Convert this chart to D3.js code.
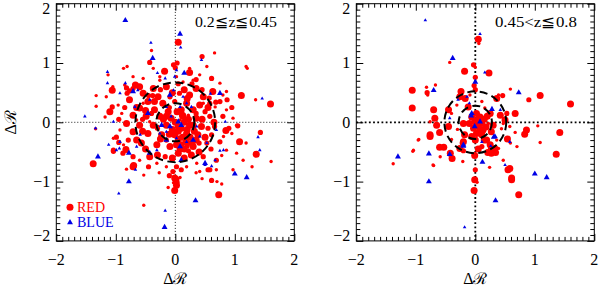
<!DOCTYPE html>
<html lang="en">
<head>
<meta charset="UTF-8">
<title>Delta R scatter</title>
<script src="https://d3js.org/d3.v7.min.js"></script>
<style>
  body { margin: 0; background: #fff; }
  text { font-family: "Liberation Serif", "Times New Roman", serif; }
</style>
</head>
<body>
<div id="chart"></div>
<script>

// [dx, dy, size class]  (1 small .. 3 big)
var leftRed = [
  [0.05,1.35,3],[-0.40,1.21,1],[-0.43,1.01,2],[0.66,1.17,1],[0.45,1.11,2],[-0.81,0.94,1],[-0.03,0.97,2],[0.0,0.92,2],
  [0.03,1.0,2],[1.21,0.91,1],[-0.18,0.86,3],[-0.26,0.77,1],[0.24,0.84,3],[0.41,0.80,1],[0.35,0.72,2],[-0.67,0.63,3],
  [-0.82,0.58,2],[-0.81,0.49,2],[-0.77,0.53,2],[-1.06,0.54,3],[-1.05,0.60,1],[-1.33,0.45,1],[0.87,0.38,2],[1.11,0.45,3],
  [1.35,0.38,1],[1.60,0.31,3],[0.68,0.34,2],[0.57,0.41,2],[0.80,0.46,1],[-1.10,0.18,3],[-1.33,0.27,1],
  [0.61,0.74,2],[-0.85,0.63,1],[-0.71,0.57,2],[-0.60,0.60,3],[-0.37,0.57,3],[-0.15,0.60,3],[0.35,0.57,3],[0.63,0.52,3],
  [-0.54,0.49,3],[-0.29,0.43,3],[-0.09,0.43,2],[0.07,0.49,2],[0.24,0.46,3],[0.47,0.43,3],[-0.77,0.38,3],[-0.46,0.35,3],
  [-0.21,0.32,3],[-0.01,0.35,2],[0.19,0.32,3],[0.41,0.29,3],[0.58,0.32,2],[0.75,0.35,2],[-1.06,0.26,2],[-0.60,0.24,3],
  [-0.35,0.21,3],[-0.12,0.18,3],[0.10,0.21,3],[0.30,0.21,3],[0.50,0.18,2],[-0.71,0.12,3],[-0.49,0.10,3],[-0.26,0.10,3],
  [-0.07,0.07,3],[0.13,0.10,3],[0.35,0.07,3],[0.58,0.10,2],[0.80,0.10,2],[-0.82,-0.02,3],[-0.60,-0.05,3],[-0.37,-0.05,3],
  [-0.15,-0.05,3],[0.05,-0.07,3],[0.24,-0.05,3],[0.44,-0.07,3],[0.66,-0.07,2],[-0.71,-0.16,3],[-0.46,-0.19,3],[-0.23,-0.21,3],
  [-0.01,-0.21,3],[0.19,-0.19,3],[0.38,-0.21,3],[0.61,-0.21,2],[-1.04,-0.47,2],[-0.79,-0.30,2],[-0.57,-0.35,3],[-0.31,-0.38,3],
  [-0.09,-0.41,3],[0.10,-0.38,3],[0.30,-0.41,3],[0.53,-0.35,2],[0.75,-0.33,2],[1.08,-0.33,3],[-0.71,-0.58,2],[-0.43,-0.58,3],
  [-0.17,-0.58,2],[0.05,-0.52,3],[0.27,-0.55,3],[0.47,-0.58,2],[0.69,-0.64,2],[-0.71,-0.75,3],[0.02,-0.75,2],[0.58,-0.80,2],
  [-0.01,-0.94,3],[0.02,-1.06,3],
  [0.0,0.0,3],[0.10,-0.10,3],[0.20,-0.12,3],[0.15,0.0,3],[0.30,-0.05,3],[0.25,-0.25,3],[0.05,-0.28,3],[-0.05,-0.12,3],
  [0.18,-0.33,3],[0.32,-0.15,3],[0.12,0.12,3],[-0.10,0.25,2],[0.35,0.15,2],[0.08,-0.45,3],[0.22,-0.48,2],[-0.20,0.05,3],
  [-0.30,-0.10,2],[-0.15,-0.30,2],[0.40,-0.35,2],[0.45,0.05,3],[-0.40,0.15,2],[-0.55,0.05,2],[0.55,-0.10,2],
  [-0.50,0.20,3],[-0.35,0.35,3],[-0.05,0.50,3],[0.15,0.55,3],[0.45,0.55,2],[0.55,0.25,3],[0.65,0.0,3],[0.50,-0.25,3],
  [0.35,-0.30,3],[0.40,-0.50,3],[0.15,-0.60,3],[-0.05,-0.60,3],[-0.30,-0.55,3],[-0.50,-0.45,3],[-0.65,-0.30,3],[-0.55,-0.15,3],
  [-0.65,0.25,3],[-0.45,0.45,2],[-0.25,0.55,2],[0.05,0.65,2],[0.28,0.65,2],[0.20,0.40,3],[-0.15,0.10,3],[0.03,0.18,3],
  [0.22,0.05,3],[0.12,-0.25,3],[-0.10,-0.20,3],[0.28,-0.35,3],[0.02,-0.38,3],[-0.25,-0.28,3],[0.15,-0.45,3],[0.05,-0.15,3],
  [0.20,-0.40,2],[-0.38,0.45,2],[0.60,-0.45,2],[-0.85,0.25,2],[-0.95,0.05,2],[0.90,-0.10,2],[0.95,0.25,2],[-0.10,-0.90,2],
  [0.10,-0.80,2],[0.35,-0.85,1],[-0.45,-0.75,2],[0.45,-0.95,1],
  [-1.13,0.80,1],[-0.87,0.91,1],[-1.16,0.43,1],[-0.96,0.29,1],[-1.18,0.09,1],[-0.90,0.15,1],[-0.54,0.32,1],[-0.65,0.04,1],
  [-0.43,0.01,1],[-0.29,-0.07,1],[0.08,0.04,1],[0.22,0.12,1],[0.47,0.32,1],[0.67,0.26,1],[0.86,0.21,1],[0.97,0.07,1],
  [1.03,-0.05,1],[0.95,-0.19,1],[0.81,-0.24,1],[0.86,-0.47,1],[1.03,-0.52,1],[1.14,-0.64,1],[-0.93,-0.13,1],[-1.04,-0.27,1],
  [-0.87,-0.38,1],[-0.79,-0.50,1],[-0.60,-0.64,1],[-0.31,-0.69,1],[-0.15,-0.75,1],[0.19,-0.75,1],[0.36,-0.69,1],[0.41,-0.83,1],
  [0.69,-0.80,1],[0.97,-0.80,1],[1.19,-0.35,1],[0.86,0.52,1],[0.75,0.66,1],[0.30,0.71,1],[0.13,0.68,1],[-0.26,0.71,1],
  [-0.54,0.74,1],[-0.71,0.77,1],[-0.37,0.91,1],[0.02,0.77,1],[0.24,0.91,1],[0.53,0.94,1],[1.19,0.94,1],
  [-1.38,-0.70,3],[-1.34,-0.11,1],[-1.04,-0.49,2],[-0.99,-0.25,2],[-0.95,-0.34,2],[-0.83,-0.46,3],[-0.88,-0.52,2],[-0.70,-0.73,3],
  [-0.82,-0.79,1],[-0.53,-0.89,1],[-0.53,-1.40,1],[-0.01,-1.15,3],[0.03,-1.01,2],[0.01,-0.96,3],[0.08,-0.93,1],[-0.04,-0.83,2],
  [-0.27,-0.85,1],[0.73,-1.22,3],[0.61,-0.98,2],[0.70,-1.00,1],[0.78,-1.04,1],[0.55,-0.80,2],[1.36,-0.54,3],[1.61,-0.66,1],
  [1.29,-0.75,1],[1.43,-0.17,2],[1.05,-0.06,2],[0.85,-0.14,3],[0.78,-0.56,1],[-0.12,-1.10,1],[-0.03,-1.02,1]
];

var leftBlue = [
  [-0.84,1.72,2],[0.08,1.49,2],[0.09,1.26,1],[-0.41,1.34,1],[-0.38,1.08,2],[0.44,1.05,1],[-1.14,0.85,1],[-0.30,0.83,1],
  [-0.01,0.77,1],[0.15,0.83,2],[-1.14,0.66,1],[-0.71,0.52,2],[-0.63,0.54,1],[0.75,0.49,2],[1.46,0.40,1],[0.59,0.48,1],
  [-1.52,0.10,1],[-0.09,0.46,2],[-0.46,0.15,2],[-0.09,-0.07,2],[0.05,0.01,2],[0.10,-0.05,2],[-0.23,-0.05,2],[0.08,-0.41,2],
  [-0.15,-0.30,2],[-0.43,-0.52,2],[0.50,-0.69,2],[0.10,-0.64,2],[0.30,-0.30,2],
  [-0.84,0.66,1],[-0.93,0.49,1],[-0.17,0.74,1],[0.02,0.88,1],[-0.03,0.54,1],[-0.15,0.26,1],[0.19,0.32,1],[0.08,0.26,1],
  [0.27,0.26,1],[0.36,-0.07,1],[0.41,-0.24,1],[0.53,-0.35,1],[0.69,-0.13,1],[0.84,0.01,1],[0.81,-0.47,1],[0.67,-0.64,1],
  [-0.59,-0.21,1],[-0.93,-0.33,1],[-0.99,-0.47,1],[-0.65,-0.41,1],[-0.31,-0.47,1],[-0.26,-0.19,1],[0.19,-0.33,1],[0.02,-0.27,1],
  [-0.15,-0.16,1],[-0.07,0.10,1],[0.13,0.43,1],[-0.43,0.38,1],[-0.68,0.26,1],[-1.04,0.01,1],
  [-1.30,-0.58,2],[-1.34,-0.10,1],[-1.12,-0.38,1],[-0.94,-0.44,1],[-0.78,-0.52,2],[-0.67,-0.80,1],[-0.78,-1.00,2],[-0.95,-1.20,1],
  [-0.17,-1.49,1],[-0.18,-1.77,2],[0.34,-1.32,2],[0.50,-0.72,1],[0.61,-0.74,1],[1.00,-0.87,2],[1.20,-0.93,2],[1.42,-0.47,1],
  [1.39,-0.25,1],[0.75,-0.48,1]
];

var rightRed = [
  [0.05,1.40,3],[0.06,1.33,1],[-0.43,1.01,1],[-0.03,0.97,2],[0.0,0.93,1],[-0.18,0.86,3],[0.23,0.83,3],[0.0,0.76,2],
  [-0.02,0.62,2],[-1.06,0.54,3],[-0.82,0.59,1],[-0.67,0.63,1],[-0.81,0.50,2],[-0.80,0.46,1],[-0.26,0.50,1],[-0.24,0.52,3],
  [0.59,0.56,1],[0.46,0.45,2],[0.90,0.38,2],[1.09,0.45,3],[1.60,0.31,3],[-1.06,0.24,3],[-0.70,0.21,3],
  [-0.68,0.07,3],[-0.76,-0.21,3],[-0.42,-0.52,3],[-0.59,-0.58,1],[-0.71,-0.72,1],[-0.96,-0.30,1],[-1.04,-0.47,1],
  [-0.45,-0.07,3],[-0.40,0.15,1],[-0.45,0.21,3],[-0.26,0.43,3],[-0.31,0.29,1],[-0.20,-0.02,3],[-0.20,-0.33,3],[-0.26,-0.44,3],
  [-0.12,0.26,3],[-0.06,0.09,3],[0.02,0.15,3],[0.08,0.09,3],[-0.01,0.01,3],[0.11,-0.02,3],[0.05,-0.07,3],[-0.03,-0.10,3],
  [0.13,-0.13,3],[0.02,-0.19,3],[0.11,-0.21,3],[-0.06,-0.24,3],[0.16,0.24,1],[0.25,0.15,3],[0.22,-0.02,1],[0.27,-0.16,3],
  [0.19,-0.30,3],[0.25,-0.38,3],[0.33,-0.44,3],[0.27,-0.52,3],[0.11,-0.41,2],[0.42,0.12,3],[0.53,0.15,2],[0.67,0.15,3],
  [0.47,-0.02,1],[0.58,-0.07,1],[0.36,-0.30,1],[0.39,-0.44,1],[0.47,-0.64,1],[0.58,-0.78,3],[0.61,-0.94,3],[0.39,0.46,1],
  [0.36,0.40,3],[0.11,0.35,1],[0.0,0.55,2],[-0.09,0.46,1],[-0.17,0.40,3],[-0.76,0.01,1],[-0.65,-0.05,3],[0.50,0.04,3],
  [0.70,-0.41,1],[0.0,-0.80,2],
  [0.05,0.05,3],[0.15,0.05,3],[0.18,-0.08,3],[0.08,-0.15,3],[0.0,-0.30,3],[0.15,-0.30,3],[-0.10,-0.02,3],[0.20,0.10,3],
  [0.05,-0.45,3],[0.30,-0.05,3],
  [-0.30,-0.12,1],[-0.18,-0.21,3],[-0.40,-0.29,1],[-0.22,-0.35,2],[-0.21,-0.66,1],[-0.01,-0.56,3],[-0.01,-0.97,3],[0.03,-1.01,1],
  [-0.02,-1.15,3],[0.24,-0.76,1],[0.55,-0.80,3],[0.61,-0.97,3],[0.73,-1.22,3],[1.36,-0.54,3],[1.42,-0.17,3],[1.05,-0.06,1],
  [0.83,-0.20,3],[0.86,-0.13,3],[0.67,-0.17,1],[0.59,-0.35,1],[0.54,-0.28,3],[0.34,-0.51,3],[0.27,-0.45,3],[0.21,-0.51,3],
  [0.44,-0.11,1],[-1.38,-0.70,1],[-1.05,-0.49,1],[-0.95,-0.29,1],[-0.76,-0.24,3],[-0.60,-0.17,3],[-0.60,-0.42,3],[-0.53,-0.42,3],
  [-0.70,-0.73,1],[-0.39,-0.61,3],[-0.20,-0.48,2],[1.09,-0.34,1]
];

var rightBlue = [
  [-0.84,1.72,1],[0.08,1.49,1],[-0.38,1.08,2],[0.16,0.84,1],[0.0,0.68,2],[-0.70,0.54,2],[0.73,0.50,2],[-1.30,-0.58,2],
  [-0.78,-0.53,2],[-0.78,-1.0,2],[-0.43,-0.54,2],[-0.20,-0.40,2],[-0.18,-1.77,1],[0.12,-0.67,2],[0.34,-1.32,2],[0.50,-0.72,1],
  [1.0,-0.87,2],[1.20,-0.93,2],[0.31,-0.25,2],[0.26,-0.40,1],[-0.20,-0.38,2],[-0.43,0.07,1],[-0.06,0.15,2],[0.08,0.01,2],
  [-0.01,-0.07,2],[0.11,-0.33,1],[0.28,0.22,2],[0.33,-0.24,2],[0.42,0.21,1],[0.58,-0.33,1],[-0.14,0.43,1],[-0.10,0.32,1],
  [-0.29,0.38,1],[-0.07,0.11,2]
];

var majorTicks = [-2, -1, 0, 1, 2];
var axisTitle = "\u0394\u211B";
var legendNames = ["RED", "BLUE"];

var panels = [
  { left: 56.3, red: leftRed, blue: leftBlue, rings: [0.32, 0.67], label: "0.2\u2266z\u22660.45", dots: "1,2", dotW: 0.9, legend: true, yTitle: true },
  { left: 356.3, red: rightRed, blue: rightBlue, rings: [0.28, 0.52], label: "0.45<z\u22660.8", dots: "1.8,2.4", dotW: 1.8, legend: false, yTitle: false }
];

var width = 600, height = 286;
var plotTop = 3.7, plotBottom = 240.9, pw = 238;

var svg = d3.select("#chart").append("svg")
  .attr("width", width)
  .attr("height", height);

var redR = d3.scaleOrdinal().domain([1, 2, 3]).range([1.7, 2.6, 3.5]);
var blueA = d3.scaleOrdinal().domain([1, 2]).range([5.5, 15]);
var tri = d3.symbol().type(d3.symbolTriangle);

var minorTicks = d3.range(-20, 21).map(function(i) { return i / 10; })
  .filter(function(v) { return majorTicks.indexOf(v) < 0; });
var fmt = function(d) { return d < 0 ? "\u2212" + (-d) : "" + d; };

panels.forEach(function(p) {
  var x = d3.scaleLinear().domain([-2, 2]).range([p.left, p.left + pw]);
  var y = d3.scaleLinear().domain([-2, 2]).range([plotBottom, plotTop]);
  var g = svg.append("g");

  // zero lines
  g.append("line").attr("x1", x(-2)).attr("x2", x(2)).attr("y1", y(0)).attr("y2", y(0))
    .attr("stroke", "#000").attr("stroke-width", p.dotW).attr("stroke-dasharray", p.dots);
  g.append("line").attr("x1", x(0)).attr("x2", x(0)).attr("y1", y(-2)).attr("y2", y(2))
    .attr("stroke", "#000").attr("stroke-width", p.dotW).attr("stroke-dasharray", p.dots);

  g.append("g").selectAll("circle")
    .data(p.red)
    .join("circle")
    .attr("cx", function(d) { return x(d[0]); })
    .attr("cy", function(d) { return y(d[1]); })
    .attr("r", function(d) { return redR(d[2]); })
    .attr("fill", "#f00");

  g.append("g").selectAll("path")
    .data(p.blue)
    .join("path")
    .attr("d", function(d) { return tri.size(blueA(d[2]))(); })
    .attr("transform", function(d) { return "translate(" + x(d[0]) + "," + y(d[1]) + ")"; })
    .attr("fill", "#0000e6");

  // dashed rings
  g.append("g").selectAll("circle")
    .data(p.rings)
    .join("circle")
    .attr("cx", x(0)).attr("cy", y(0))
    .attr("r", function(d) { return x(d) - x(0); })
    .attr("fill", "none")
    .attr("stroke", "#000")
    .attr("stroke-width", 2)
    .attr("stroke-dasharray", "8,4.5");

  // frame + ticks on all sides
  g.append("rect").attr("x", x(-2)).attr("y", y(2)).attr("width", pw).attr("height", plotBottom - plotTop)
    .attr("fill", "none").attr("stroke", "#000").attr("stroke-width", 1);

  function ticks(axis, tr, vals, len) {
    var a = axis.tickValues(vals).tickSizeInner(-len).tickSizeOuter(0).tickFormat("");
    var ag = g.append("g").attr("transform", tr).call(a);
    ag.select(".domain").remove();
    ag.selectAll("line").attr("stroke", "#000");
    return ag;
  }
  ticks(d3.axisBottom(x), "translate(0," + plotBottom + ")", majorTicks, 7);
  ticks(d3.axisBottom(x), "translate(0," + plotBottom + ")", minorTicks, 4);
  ticks(d3.axisTop(x), "translate(0," + plotTop + ")", majorTicks, 7);
  ticks(d3.axisTop(x), "translate(0," + plotTop + ")", minorTicks, 4);
  ticks(d3.axisLeft(y), "translate(" + x(-2) + ",0)", majorTicks, 7);
  ticks(d3.axisLeft(y), "translate(" + x(-2) + ",0)", minorTicks, 4);
  ticks(d3.axisRight(y), "translate(" + x(2) + ",0)", majorTicks, 7);
  ticks(d3.axisRight(y), "translate(" + x(2) + ",0)", minorTicks, 4);

  // tick labels (end labels nudged inside like the original)
  g.append("g").selectAll("text")
    .data(majorTicks)
    .join("text")
    .attr("x", function(d) { return x(d); })
    .attr("y", 265)
    .attr("text-anchor", "middle")
    .attr("font-size", 16)
    .text(fmt);

  g.append("g").selectAll("text")
    .data(majorTicks)
    .join("text")
    .attr("x", x(-2) - 6)
    .attr("y", function(d) { return Math.min(Math.max(y(d), plotTop + 5), plotBottom - 5) + 5.2; })
    .attr("text-anchor", "end")
    .attr("font-size", 16)
    .text(fmt);

  g.append("text")
    .attr("x", x(0.33)).attr("y", 26.5)
    .attr("font-size", 15)
    .attr("textLength", 82).attr("lengthAdjust", "spacingAndGlyphs")
    .text(p.label);

  g.append("text")
    .attr("x", x(0)).attr("y", 284)
    .attr("text-anchor", "middle")
    .attr("font-size", 16)
    .text(axisTitle);

  if (p.yTitle) {
    g.append("text")
      .attr("transform", "translate(16," + y(0) + ") rotate(-90)")
      .attr("text-anchor", "middle")
      .attr("font-size", 16)
      .text(axisTitle);
  }

  if (p.legend) {
    g.append("circle").attr("cx", 70).attr("cy", 207.3).attr("r", redR(3)).attr("fill", "#f00");
    g.append("path").attr("d", tri.size(blueA(2))()).attr("transform", "translate(70,222.5)").attr("fill", "#0000e6");
    g.append("text").attr("x", 77).attr("y", 211.6).attr("font-size", 14).attr("fill", "#f00").text(legendNames[0]);
    g.append("text").attr("x", 77).attr("y", 227).attr("font-size", 14).attr("fill", "#0000e6").text(legendNames[1]);
  }
});
</script>
</body>
</html>
